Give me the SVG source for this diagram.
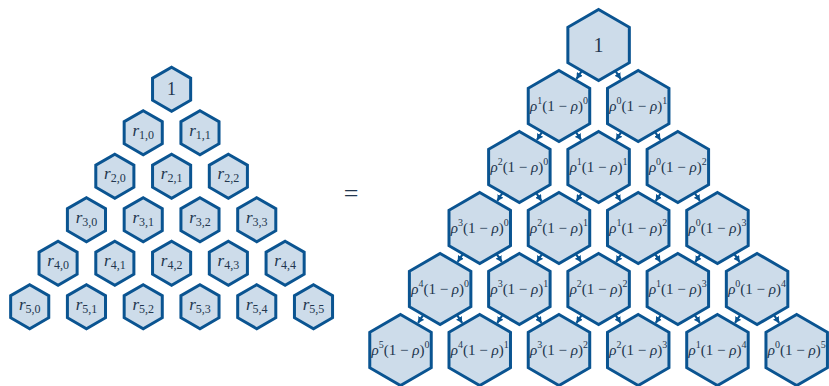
<svg xmlns="http://www.w3.org/2000/svg" width="829" height="386" viewBox="0 0 829 386">
<style>
.hs{fill:#cddcea;stroke:#0a5491;stroke-width:3;stroke-linejoin:miter}
.t{font-family:"Liberation Serif","DejaVu Serif",serif;fill:#22364e;text-anchor:middle}
.ls{font-size:17px}
.rs{font-size:15px}
.i{font-style:italic}
.c line{stroke:#0a5491;stroke-width:2.2}
</style>
<defs>
<polygon id="hS" class="hs" points="0,-22 19.05,-11 19.05,11 0,22 -19.05,11 -19.05,-11"/>
<polygon id="hL" class="hs" points="0,-35.5 30.74,-17.75 30.74,17.75 0,35.5 -30.74,17.75 -30.74,-17.75"/>
<marker id="ar" markerUnits="userSpaceOnUse" markerWidth="7" markerHeight="7" refX="6" refY="3.5" orient="auto"><path d="M0,0 L6,3.5 L0,7 z" fill="#0a5491"/></marker>
</defs>

<g id="left">
<g id="l00" transform="translate(171.6,89.2)"><use href="#hS"/><text class="t" y="6" font-size="18">1</text></g>
<g id="l10" transform="translate(143.22,132.7)"><use href="#hS"/><text class="t ls" y="3"><tspan class="i">r</tspan><tspan font-size="12" dy="3">1,0</tspan></text></g>
<g id="l11" transform="translate(199.98,132.7)"><use href="#hS"/><text class="t ls" y="3"><tspan class="i">r</tspan><tspan font-size="12" dy="3">1,1</tspan></text></g>
<g id="l20" transform="translate(114.84,176.2)"><use href="#hS"/><text class="t ls" y="3"><tspan class="i">r</tspan><tspan font-size="12" dy="3">2,0</tspan></text></g>
<g id="l21" transform="translate(171.6,176.2)"><use href="#hS"/><text class="t ls" y="3"><tspan class="i">r</tspan><tspan font-size="12" dy="3">2,1</tspan></text></g>
<g id="l22" transform="translate(228.36,176.2)"><use href="#hS"/><text class="t ls" y="3"><tspan class="i">r</tspan><tspan font-size="12" dy="3">2,2</tspan></text></g>
<g id="l30" transform="translate(86.46,219.7)"><use href="#hS"/><text class="t ls" y="3"><tspan class="i">r</tspan><tspan font-size="12" dy="3">3,0</tspan></text></g>
<g id="l31" transform="translate(143.22,219.7)"><use href="#hS"/><text class="t ls" y="3"><tspan class="i">r</tspan><tspan font-size="12" dy="3">3,1</tspan></text></g>
<g id="l32" transform="translate(199.98,219.7)"><use href="#hS"/><text class="t ls" y="3"><tspan class="i">r</tspan><tspan font-size="12" dy="3">3,2</tspan></text></g>
<g id="l33" transform="translate(256.74,219.7)"><use href="#hS"/><text class="t ls" y="3"><tspan class="i">r</tspan><tspan font-size="12" dy="3">3,3</tspan></text></g>
<g id="l40" transform="translate(58.08,263.2)"><use href="#hS"/><text class="t ls" y="3"><tspan class="i">r</tspan><tspan font-size="12" dy="3">4,0</tspan></text></g>
<g id="l41" transform="translate(114.84,263.2)"><use href="#hS"/><text class="t ls" y="3"><tspan class="i">r</tspan><tspan font-size="12" dy="3">4,1</tspan></text></g>
<g id="l42" transform="translate(171.6,263.2)"><use href="#hS"/><text class="t ls" y="3"><tspan class="i">r</tspan><tspan font-size="12" dy="3">4,2</tspan></text></g>
<g id="l43" transform="translate(228.36,263.2)"><use href="#hS"/><text class="t ls" y="3"><tspan class="i">r</tspan><tspan font-size="12" dy="3">4,3</tspan></text></g>
<g id="l44" transform="translate(285.12,263.2)"><use href="#hS"/><text class="t ls" y="3"><tspan class="i">r</tspan><tspan font-size="12" dy="3">4,4</tspan></text></g>
<g id="l50" transform="translate(29.7,306.7)"><use href="#hS"/><text class="t ls" y="3"><tspan class="i">r</tspan><tspan font-size="12" dy="3">5,0</tspan></text></g>
<g id="l51" transform="translate(86.46,306.7)"><use href="#hS"/><text class="t ls" y="3"><tspan class="i">r</tspan><tspan font-size="12" dy="3">5,1</tspan></text></g>
<g id="l52" transform="translate(143.22,306.7)"><use href="#hS"/><text class="t ls" y="3"><tspan class="i">r</tspan><tspan font-size="12" dy="3">5,2</tspan></text></g>
<g id="l53" transform="translate(199.98,306.7)"><use href="#hS"/><text class="t ls" y="3"><tspan class="i">r</tspan><tspan font-size="12" dy="3">5,3</tspan></text></g>
<g id="l54" transform="translate(256.74,306.7)"><use href="#hS"/><text class="t ls" y="3"><tspan class="i">r</tspan><tspan font-size="12" dy="3">5,4</tspan></text></g>
<g id="l55" transform="translate(313.5,306.7)"><use href="#hS"/><text class="t ls" y="3"><tspan class="i">r</tspan><tspan font-size="12" dy="3">5,5</tspan></text></g>
</g>

<text id="eq" class="t" x="351" y="202" font-size="26">=</text>

<g id="right">
<g id="r00" transform="translate(598.6,45)"><use href="#hL"/><text class="t" y="7" font-size="20">1</text></g>
<g id="r10" transform="translate(558.98,106)"><use href="#hL"/><text class="t rs" y="5"><tspan class="i">ρ</tspan><tspan font-size="10" dy="-7">1</tspan><tspan dy="7">(1 − <tspan class="i">ρ</tspan>)</tspan><tspan font-size="10" dy="-7">0</tspan></text></g>
<g id="r11" transform="translate(638.22,106)"><use href="#hL"/><text class="t rs" y="5"><tspan class="i">ρ</tspan><tspan font-size="10" dy="-7">0</tspan><tspan dy="7">(1 − <tspan class="i">ρ</tspan>)</tspan><tspan font-size="10" dy="-7">1</tspan></text></g>
<g id="r20" transform="translate(519.36,167)"><use href="#hL"/><text class="t rs" y="5"><tspan class="i">ρ</tspan><tspan font-size="10" dy="-7">2</tspan><tspan dy="7">(1 − <tspan class="i">ρ</tspan>)</tspan><tspan font-size="10" dy="-7">0</tspan></text></g>
<g id="r21" transform="translate(598.6,167)"><use href="#hL"/><text class="t rs" y="5"><tspan class="i">ρ</tspan><tspan font-size="10" dy="-7">1</tspan><tspan dy="7">(1 − <tspan class="i">ρ</tspan>)</tspan><tspan font-size="10" dy="-7">1</tspan></text></g>
<g id="r22" transform="translate(677.84,167)"><use href="#hL"/><text class="t rs" y="5"><tspan class="i">ρ</tspan><tspan font-size="10" dy="-7">0</tspan><tspan dy="7">(1 − <tspan class="i">ρ</tspan>)</tspan><tspan font-size="10" dy="-7">2</tspan></text></g>
<g id="r30" transform="translate(479.74,228)"><use href="#hL"/><text class="t rs" y="5"><tspan class="i">ρ</tspan><tspan font-size="10" dy="-7">3</tspan><tspan dy="7">(1 − <tspan class="i">ρ</tspan>)</tspan><tspan font-size="10" dy="-7">0</tspan></text></g>
<g id="r31" transform="translate(558.98,228)"><use href="#hL"/><text class="t rs" y="5"><tspan class="i">ρ</tspan><tspan font-size="10" dy="-7">2</tspan><tspan dy="7">(1 − <tspan class="i">ρ</tspan>)</tspan><tspan font-size="10" dy="-7">1</tspan></text></g>
<g id="r32" transform="translate(638.22,228)"><use href="#hL"/><text class="t rs" y="5"><tspan class="i">ρ</tspan><tspan font-size="10" dy="-7">1</tspan><tspan dy="7">(1 − <tspan class="i">ρ</tspan>)</tspan><tspan font-size="10" dy="-7">2</tspan></text></g>
<g id="r33" transform="translate(717.46,228)"><use href="#hL"/><text class="t rs" y="5"><tspan class="i">ρ</tspan><tspan font-size="10" dy="-7">0</tspan><tspan dy="7">(1 − <tspan class="i">ρ</tspan>)</tspan><tspan font-size="10" dy="-7">3</tspan></text></g>
<g id="r40" transform="translate(440.12,289)"><use href="#hL"/><text class="t rs" y="5"><tspan class="i">ρ</tspan><tspan font-size="10" dy="-7">4</tspan><tspan dy="7">(1 − <tspan class="i">ρ</tspan>)</tspan><tspan font-size="10" dy="-7">0</tspan></text></g>
<g id="r41" transform="translate(519.36,289)"><use href="#hL"/><text class="t rs" y="5"><tspan class="i">ρ</tspan><tspan font-size="10" dy="-7">3</tspan><tspan dy="7">(1 − <tspan class="i">ρ</tspan>)</tspan><tspan font-size="10" dy="-7">1</tspan></text></g>
<g id="r42" transform="translate(598.6,289)"><use href="#hL"/><text class="t rs" y="5"><tspan class="i">ρ</tspan><tspan font-size="10" dy="-7">2</tspan><tspan dy="7">(1 − <tspan class="i">ρ</tspan>)</tspan><tspan font-size="10" dy="-7">2</tspan></text></g>
<g id="r43" transform="translate(677.84,289)"><use href="#hL"/><text class="t rs" y="5"><tspan class="i">ρ</tspan><tspan font-size="10" dy="-7">1</tspan><tspan dy="7">(1 − <tspan class="i">ρ</tspan>)</tspan><tspan font-size="10" dy="-7">3</tspan></text></g>
<g id="r44" transform="translate(757.08,289)"><use href="#hL"/><text class="t rs" y="5"><tspan class="i">ρ</tspan><tspan font-size="10" dy="-7">0</tspan><tspan dy="7">(1 − <tspan class="i">ρ</tspan>)</tspan><tspan font-size="10" dy="-7">4</tspan></text></g>
<g id="r50" transform="translate(400.5,350)"><use href="#hL"/><text class="t rs" y="5"><tspan class="i">ρ</tspan><tspan font-size="10" dy="-7">5</tspan><tspan dy="7">(1 − <tspan class="i">ρ</tspan>)</tspan><tspan font-size="10" dy="-7">0</tspan></text></g>
<g id="r51" transform="translate(479.74,350)"><use href="#hL"/><text class="t rs" y="5"><tspan class="i">ρ</tspan><tspan font-size="10" dy="-7">4</tspan><tspan dy="7">(1 − <tspan class="i">ρ</tspan>)</tspan><tspan font-size="10" dy="-7">1</tspan></text></g>
<g id="r52" transform="translate(558.98,350)"><use href="#hL"/><text class="t rs" y="5"><tspan class="i">ρ</tspan><tspan font-size="10" dy="-7">3</tspan><tspan dy="7">(1 − <tspan class="i">ρ</tspan>)</tspan><tspan font-size="10" dy="-7">2</tspan></text></g>
<g id="r53" transform="translate(638.22,350)"><use href="#hL"/><text class="t rs" y="5"><tspan class="i">ρ</tspan><tspan font-size="10" dy="-7">2</tspan><tspan dy="7">(1 − <tspan class="i">ρ</tspan>)</tspan><tspan font-size="10" dy="-7">3</tspan></text></g>
<g id="r54" transform="translate(717.46,350)"><use href="#hL"/><text class="t rs" y="5"><tspan class="i">ρ</tspan><tspan font-size="10" dy="-7">1</tspan><tspan dy="7">(1 − <tspan class="i">ρ</tspan>)</tspan><tspan font-size="10" dy="-7">4</tspan></text></g>
<g id="r55" transform="translate(796.7,350)"><use href="#hL"/><text class="t rs" y="5"><tspan class="i">ρ</tspan><tspan font-size="10" dy="-7">0</tspan><tspan dy="7">(1 − <tspan class="i">ρ</tspan>)</tspan><tspan font-size="10" dy="-7">5</tspan></text></g>
</g>

<g id="connectors" class="c" marker-end="url(#ar)">
<line x1="581.71" y1="71" x2="576.54" y2="78.96"/><line x1="615.49" y1="71" x2="620.66" y2="78.96"/>
<line x1="542.09" y1="132" x2="536.92" y2="139.96"/><line x1="575.87" y1="132" x2="581.04" y2="139.96"/>
<line x1="621.33" y1="132" x2="616.16" y2="139.96"/><line x1="655.11" y1="132" x2="660.28" y2="139.96"/>
<line x1="502.47" y1="193" x2="497.3" y2="200.96"/><line x1="536.25" y1="193" x2="541.42" y2="200.96"/>
<line x1="581.71" y1="193" x2="576.54" y2="200.96"/><line x1="615.49" y1="193" x2="620.66" y2="200.96"/>
<line x1="660.95" y1="193" x2="655.78" y2="200.96"/><line x1="694.73" y1="193" x2="699.9" y2="200.96"/>
<line x1="462.85" y1="254" x2="457.68" y2="261.96"/><line x1="496.63" y1="254" x2="501.8" y2="261.96"/>
<line x1="542.09" y1="254" x2="536.92" y2="261.96"/><line x1="575.87" y1="254" x2="581.04" y2="261.96"/>
<line x1="621.33" y1="254" x2="616.16" y2="261.96"/><line x1="655.11" y1="254" x2="660.28" y2="261.96"/>
<line x1="700.57" y1="254" x2="695.4" y2="261.96"/><line x1="734.35" y1="254" x2="739.52" y2="261.96"/>
<line x1="423.23" y1="315" x2="418.06" y2="322.96"/><line x1="457.01" y1="315" x2="462.18" y2="322.96"/>
<line x1="502.47" y1="315" x2="497.3" y2="322.96"/><line x1="536.25" y1="315" x2="541.42" y2="322.96"/>
<line x1="581.71" y1="315" x2="576.54" y2="322.96"/><line x1="615.49" y1="315" x2="620.66" y2="322.96"/>
<line x1="660.95" y1="315" x2="655.78" y2="322.96"/><line x1="694.73" y1="315" x2="699.9" y2="322.96"/>
<line x1="740.19" y1="315" x2="735.02" y2="322.96"/><line x1="773.97" y1="315" x2="779.14" y2="322.96"/>
</g>
</svg>
